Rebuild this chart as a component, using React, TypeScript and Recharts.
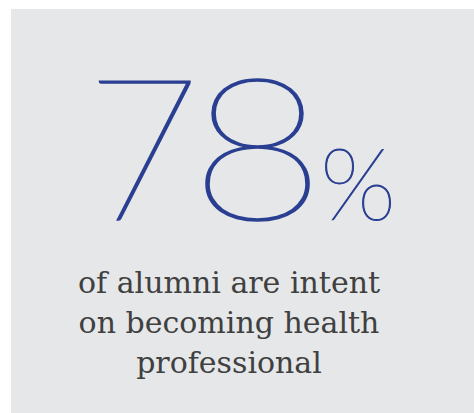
import { BarChart, Bar, XAxis, YAxis } from 'recharts'

// headline figure and caption lines
const share = [{ group: 'alumni', value: 78 }]
const unit = '%'
const captionLines = ['of alumni are intent', 'on becoming health', 'professional']

const BLUE = '#2a3f91'
const GREY_TEXT = '#404040'

// digit centres and horizontal stretch, the display face is wider than Lato
const digitX = [143, 257.5]
const digitStretch = [1, 1.18]

export default function App() {
  const digits = String(share[0].value).split('')
  return (
    <div style={{ position: 'absolute', left: 0, top: 0, width: 474, height: 413, background: '#fff' }}>
      <div style={{ position: 'absolute', left: 11, top: 9, width: 463, height: 404, background: '#e6e7e9' }} />
      <div style={{ position: 'absolute', left: 0, top: 0 }}>
        <BarChart width={474} height={413} data={share} margin={{ top: 0, right: 0, bottom: 0, left: 0 }}>
          <XAxis dataKey="group" hide />
          <YAxis hide domain={[0, 100]} />
          <Bar dataKey="value" fill={BLUE} fillOpacity={0} isAnimationActive={false} />
          {digits.map((d, i) => (
            <text
              key={i}
              x={digitX[i]}
              y={220}
              textAnchor="middle"
              fill={BLUE}
              stroke={BLUE}
              strokeWidth={1.5}
              transform={`translate(${digitX[i]} 0) scale(${digitStretch[i]} 1) translate(${-digitX[i]} 0)`}
              style={{ fontFamily: 'Lato, Roboto, sans-serif', fontWeight: 100, fontSize: 198 }}
            >
              {d}
            </text>
          ))}
          <text
            x={320}
            y={220}
            fill={BLUE}
            stroke={BLUE}
            strokeWidth={1}
            style={{ fontFamily: 'Lato, Roboto, sans-serif', fontWeight: 100, fontSize: 100 }}
          >
            {unit}
          </text>
          {captionLines.map((line, i) => (
            <text
              key={line}
              x={229}
              y={293 + i * 40}
              textAnchor="middle"
              fill={GREY_TEXT}
              style={{ fontFamily: '"DejaVu Serif", serif', fontSize: 30 }}
            >
              {line}
            </text>
          ))}
        </BarChart>
      </div>
    </div>
  )
}
